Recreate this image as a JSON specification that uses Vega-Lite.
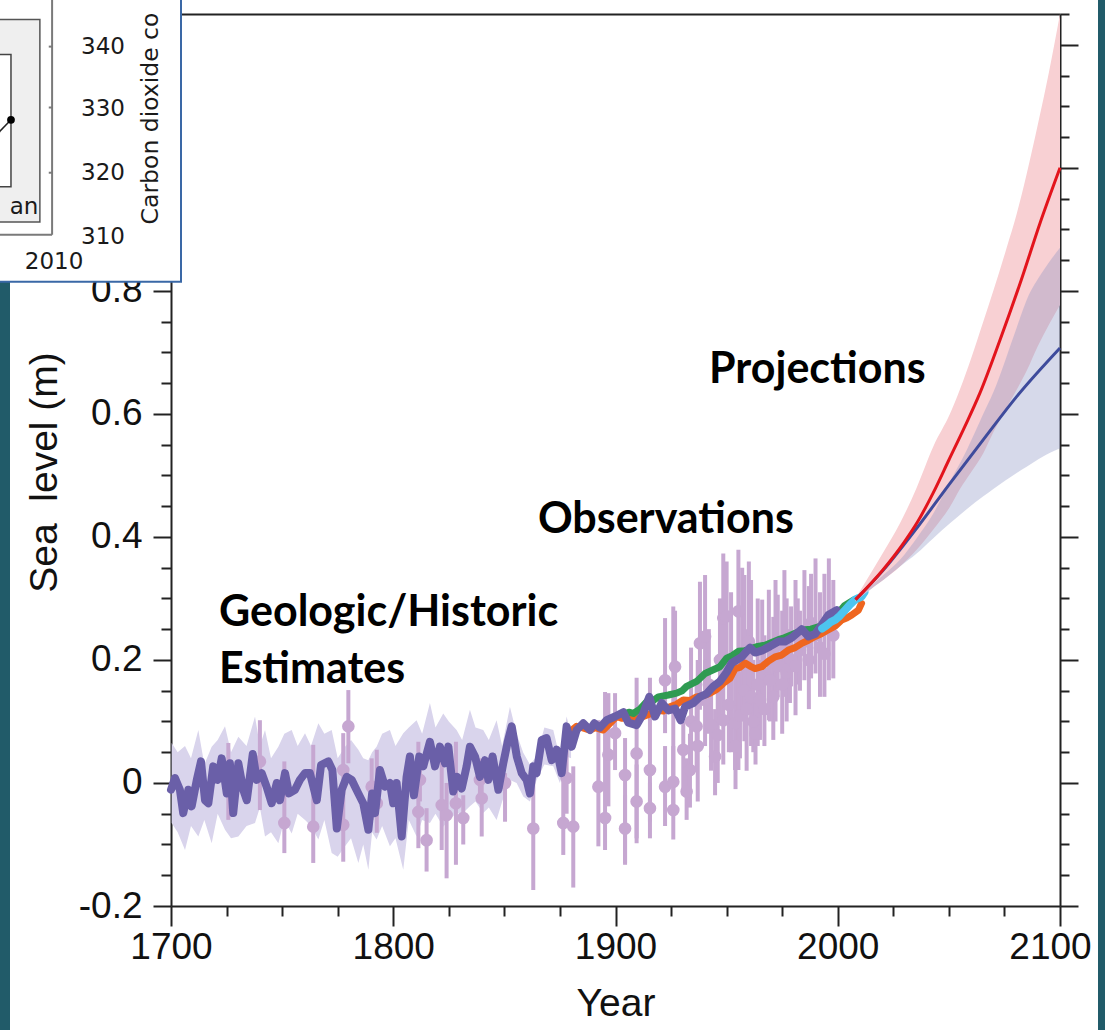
{
  "$schema": "https://vega.github.io/schema/vega-lite/v6.json",
  "width": 889,
  "height": 892,
  "autosize": {"type": "none"},
  "padding": {"left": 171, "top": 14, "right": 45, "bottom": 124},
  "background": "white",
  "config": {
    "view": {"stroke": null},
    "axis": {"grid": false, "domainColor": "#222", "domainWidth": 2, "tickColor": "#222", "tickWidth": 2,
      "labelFont": "Liberation Sans, Arial, sans-serif", "labelFontSize": 37, "labelColor": "#111",
      "titleFont": "Liberation Sans, Arial, sans-serif", "titleFontSize": 39, "titleFontWeight": "normal", "titleColor": "#111"}
  },
  "datasets": {
    "strips": [
      {"x1": 1580, "x2": 1627.56, "y1": -0.5, "y2": 1.4},
      {"x1": 2117.1, "x2": 2160, "y1": -0.5, "y2": 1.4}
    ],
    "band": [
      {"year": 1700.3, "lo": -0.065, "hi": 0.065}, {"year": 1703, "lo": -0.08, "hi": 0.05},
      {"year": 1706.3, "lo": -0.109, "hi": 0.06}, {"year": 1709, "lo": -0.07, "hi": 0.04},
      {"year": 1712.3, "lo": -0.087, "hi": 0.086}, {"year": 1715, "lo": -0.06, "hi": 0.03},
      {"year": 1718.3, "lo": -0.098, "hi": 0.059}, {"year": 1721, "lo": -0.05, "hi": 0.07},
      {"year": 1724.3, "lo": -0.076, "hi": 0.092}, {"year": 1727, "lo": -0.09, "hi": 0.05},
      {"year": 1730.3, "lo": -0.087, "hi": 0.075}, {"year": 1734, "lo": -0.07, "hi": 0.06},
      {"year": 1737.8, "lo": -0.065, "hi": 0.108}, {"year": 1740, "lo": -0.04, "hi": 0.06},
      {"year": 1742.3, "lo": -0.087, "hi": 0.086}, {"year": 1745, "lo": -0.08, "hi": 0.04},
      {"year": 1748.3, "lo": -0.098, "hi": 0.059}, {"year": 1751, "lo": -0.06, "hi": 0.08},
      {"year": 1754.3, "lo": -0.082, "hi": 0.086}, {"year": 1757, "lo": -0.05, "hi": 0.06},
      {"year": 1760.3, "lo": -0.06, "hi": 0.081}, {"year": 1763, "lo": -0.07, "hi": 0.06},
      {"year": 1766.3, "lo": -0.092, "hi": 0.097}, {"year": 1769, "lo": -0.06, "hi": 0.08},
      {"year": 1772.3, "lo": -0.114, "hi": 0.086}, {"year": 1775, "lo": -0.12, "hi": 0.04},
      {"year": 1778.3, "lo": -0.103, "hi": 0.059}, {"year": 1781, "lo": -0.09, "hi": 0.07},
      {"year": 1784.3, "lo": -0.13, "hi": 0.054}, {"year": 1786.5, "lo": -0.1, "hi": 0.04},
      {"year": 1788.8, "lo": -0.141, "hi": 0.037}, {"year": 1790.5, "lo": -0.08, "hi": 0.05},
      {"year": 1792.5, "lo": -0.092, "hi": 0.059}, {"year": 1795, "lo": -0.07, "hi": 0.08},
      {"year": 1798.5, "lo": -0.103, "hi": 0.086}, {"year": 1801, "lo": -0.09, "hi": 0.06},
      {"year": 1804.5, "lo": -0.141, "hi": 0.081}, {"year": 1807, "lo": -0.06, "hi": 0.09},
      {"year": 1810.5, "lo": -0.087, "hi": 0.102}, {"year": 1813, "lo": -0.06, "hi": 0.08},
      {"year": 1816.5, "lo": -0.065, "hi": 0.13}, {"year": 1819, "lo": -0.05, "hi": 0.09},
      {"year": 1822.5, "lo": -0.071, "hi": 0.113}, {"year": 1825, "lo": -0.06, "hi": 0.1},
      {"year": 1828.5, "lo": -0.049, "hi": 0.086}, {"year": 1831, "lo": -0.05, "hi": 0.07},
      {"year": 1834.5, "lo": -0.038, "hi": 0.119}, {"year": 1837, "lo": -0.03, "hi": 0.09},
      {"year": 1840.5, "lo": -0.049, "hi": 0.086}, {"year": 1843, "lo": -0.04, "hi": 0.07},
      {"year": 1846.5, "lo": -0.06, "hi": 0.102}, {"year": 1849, "lo": -0.03, "hi": 0.06},
      {"year": 1852.5, "lo": 0.005, "hi": 0.124}, {"year": 1855.5, "lo": 0.0, "hi": 0.08},
      {"year": 1858.5, "lo": -0.022, "hi": 0.049}, {"year": 1861.5, "lo": -0.03, "hi": 0.03},
      {"year": 1864.5, "lo": 0.005, "hi": 0.043}, {"year": 1868, "lo": 0.03, "hi": 0.09},
      {"year": 1872, "lo": 0.027, "hi": 0.086}, {"year": 1875, "lo": 0.0, "hi": 0.04},
      {"year": 1878, "lo": 0.043, "hi": 0.108}, {"year": 1880, "lo": 0.04, "hi": 0.08}
    ],
    "points": [
      {"year": 1725.8, "v": 0.0, "lo": -0.06, "hi": 0.065},
      {"year": 1740, "v": 0.035, "lo": -0.044, "hi": 0.102},
      {"year": 1751, "v": -0.065, "lo": -0.114, "hi": 0.035},
      {"year": 1764, "v": -0.071, "lo": -0.13, "hi": 0.062},
      {"year": 1777.5, "v": 0.021, "lo": -0.02, "hi": 0.081},
      {"year": 1777.5, "v": -0.068, "lo": -0.128, "hi": 0.005},
      {"year": 1779.8, "v": 0.092, "lo": 0.032, "hi": 0.151},
      {"year": 1790.3, "v": -0.006, "lo": -0.06, "hi": 0.04},
      {"year": 1792.6, "v": -0.033, "lo": -0.081, "hi": 0.054},
      {"year": 1811.3, "v": -0.047, "lo": -0.106, "hi": 0.067},
      {"year": 1812, "v": 0.005, "lo": -0.03, "hi": 0.04},
      {"year": 1815, "v": -0.093, "lo": -0.144, "hi": -0.041},
      {"year": 1821.8, "v": -0.036, "lo": -0.109, "hi": 0.037},
      {"year": 1824, "v": -0.052, "lo": -0.155, "hi": 0.0},
      {"year": 1828.2, "v": -0.033, "lo": -0.133, "hi": 0.067},
      {"year": 1831.5, "v": -0.057, "lo": -0.1, "hi": -0.02},
      {"year": 1839, "v": 0.005, "lo": -0.03, "hi": 0.04},
      {"year": 1839.8, "v": -0.025, "lo": -0.087, "hi": 0.027},
      {"year": 1850.3, "v": 0.0, "lo": -0.063, "hi": 0.016},
      {"year": 1863, "v": -0.074, "lo": -0.174, "hi": 0.016},
      {"year": 1876.5, "v": -0.065, "lo": -0.117, "hi": 0.027},
      {"year": 1878, "v": 0.008, "lo": -0.05, "hi": 0.06},
      {"year": 1881, "v": -0.071, "lo": -0.17, "hi": 0.027},
      {"year": 1892.3, "v": -0.006, "lo": -0.103, "hi": 0.102},
      {"year": 1895.3, "v": -0.057, "lo": -0.109, "hi": 0.148},
      {"year": 1896.8, "v": 0.046, "lo": -0.038, "hi": 0.146},
      {"year": 1899.8, "v": 0.081, "lo": 0.021, "hi": 0.146},
      {"year": 1904.3, "v": 0.013, "lo": -0.133, "hi": 0.073},
      {"year": 1904.3, "v": -0.074, "lo": -0.13, "hi": -0.02},
      {"year": 1909.5, "v": 0.048, "lo": -0.098, "hi": 0.171},
      {"year": 1909.5, "v": -0.03, "lo": -0.09, "hi": 0.03},
      {"year": 1915.5, "v": 0.021, "lo": -0.063, "hi": 0.171},
      {"year": 1915.5, "v": -0.041, "lo": -0.09, "hi": 0.0},
      {"year": 1922.3, "v": 0.167, "lo": 0.081, "hi": 0.268},
      {"year": 1922.3, "v": -0.006, "lo": -0.07, "hi": 0.06},
      {"year": 1926, "v": -0.044, "lo": -0.092, "hi": 0.287},
      {"year": 1926.8, "v": 0.189, "lo": 0.12, "hi": 0.28},
      {"year": 1926, "v": 0.002, "lo": -0.05, "hi": 0.06},
      {"year": 1930.5, "v": 0.054, "lo": -0.02, "hi": 0.1},
      {"year": 1932, "v": -0.014, "lo": -0.06, "hi": 0.04},
      {"year": 1933.5, "v": 0.021, "lo": -0.04, "hi": 0.08},
      {"year": 1934, "v": 0.1, "lo": 0.02, "hi": 0.22},
      {"year": 1936.5, "v": 0.092, "lo": 0.02, "hi": 0.16},
      {"year": 1937, "v": 0.06, "lo": -0.03, "hi": 0.2},
      {"year": 1938, "v": 0.227, "lo": 0.119, "hi": 0.327},
      {"year": 1940.3, "v": 0.238, "lo": 0.151, "hi": 0.338},
      {"year": 1940.3, "v": 0.135, "lo": 0.06, "hi": 0.2},
      {"year": 1942, "v": 0.16, "lo": 0.08, "hi": 0.25},
      {"year": 1943, "v": 0.094, "lo": 0.02, "hi": 0.16},
      {"year": 1944.8, "v": 0.043, "lo": -0.02, "hi": 0.12},
      {"year": 1946, "v": 0.078, "lo": 0.0, "hi": 0.15},
      {"year": 1947, "v": 0.2, "lo": 0.1, "hi": 0.3},
      {"year": 1948.5, "v": 0.268, "lo": 0.16, "hi": 0.373},
      {"year": 1948.5, "v": 0.102, "lo": 0.03, "hi": 0.17},
      {"year": 1950, "v": 0.271, "lo": 0.16, "hi": 0.36},
      {"year": 1951, "v": 0.127, "lo": 0.05, "hi": 0.2},
      {"year": 1952, "v": 0.18, "lo": 0.05, "hi": 0.31},
      {"year": 1953.8, "v": 0.097, "lo": 0.021, "hi": 0.2},
      {"year": 1954, "v": 0.06, "lo": -0.01, "hi": 0.13},
      {"year": 1955.3, "v": 0.279, "lo": 0.021, "hi": 0.379},
      {"year": 1956, "v": 0.11, "lo": 0.04, "hi": 0.18},
      {"year": 1957, "v": 0.21, "lo": 0.1, "hi": 0.35},
      {"year": 1958, "v": 0.15, "lo": 0.068, "hi": 0.338},
      {"year": 1959, "v": 0.12, "lo": 0.02, "hi": 0.25},
      {"year": 1960, "v": 0.23, "lo": 0.12, "hi": 0.36},
      {"year": 1961, "v": 0.14, "lo": 0.06, "hi": 0.33},
      {"year": 1962, "v": 0.1, "lo": 0.05, "hi": 0.2},
      {"year": 1963, "v": 0.08, "lo": 0.03, "hi": 0.14},
      {"year": 1964, "v": 0.16, "lo": 0.06, "hi": 0.3},
      {"year": 1965, "v": 0.135, "lo": 0.07, "hi": 0.2},
      {"year": 1966, "v": 0.18, "lo": 0.135, "hi": 0.298},
      {"year": 1967, "v": 0.12, "lo": 0.06, "hi": 0.24},
      {"year": 1969, "v": 0.17, "lo": 0.102, "hi": 0.314},
      {"year": 1969.5, "v": 0.167, "lo": 0.1, "hi": 0.23},
      {"year": 1971, "v": 0.14, "lo": 0.07, "hi": 0.27},
      {"year": 1972, "v": 0.2, "lo": 0.1, "hi": 0.33},
      {"year": 1973, "v": 0.19, "lo": 0.14, "hi": 0.306},
      {"year": 1975, "v": 0.16, "lo": 0.08, "hi": 0.28},
      {"year": 1976, "v": 0.22, "lo": 0.14, "hi": 0.346},
      {"year": 1977, "v": 0.18, "lo": 0.1, "hi": 0.3},
      {"year": 1978.5, "v": 0.19, "lo": 0.13, "hi": 0.25},
      {"year": 1979, "v": 0.2, "lo": 0.157, "hi": 0.287},
      {"year": 1981, "v": 0.19, "lo": 0.11, "hi": 0.33},
      {"year": 1982, "v": 0.24, "lo": 0.16, "hi": 0.3},
      {"year": 1983, "v": 0.216, "lo": 0.15, "hi": 0.28},
      {"year": 1985, "v": 0.23, "lo": 0.167, "hi": 0.346},
      {"year": 1987, "v": 0.2, "lo": 0.12, "hi": 0.32},
      {"year": 1988, "v": 0.26, "lo": 0.17, "hi": 0.34},
      {"year": 1990, "v": 0.24, "lo": 0.178, "hi": 0.365},
      {"year": 1992, "v": 0.22, "lo": 0.14, "hi": 0.31},
      {"year": 1994, "v": 0.21, "lo": 0.14, "hi": 0.34},
      {"year": 1996, "v": 0.25, "lo": 0.167, "hi": 0.365},
      {"year": 1998, "v": 0.24, "lo": 0.17, "hi": 0.33}
    ],
    "recon": [
      {"year": 1700.0, "v": -0.011}, {"year": 1701.8, "v": 0.008}, {"year": 1704.0, "v": -0.011},
      {"year": 1705.5, "v": -0.049}, {"year": 1707.8, "v": -0.011}, {"year": 1709.3, "v": -0.038},
      {"year": 1711.6, "v": 0.005}, {"year": 1713.5, "v": 0.035}, {"year": 1715.3, "v": -0.028},
      {"year": 1716.8, "v": -0.033}, {"year": 1719.0, "v": 0.027}, {"year": 1721.0, "v": 0.005},
      {"year": 1722.8, "v": 0.04}, {"year": 1725.1, "v": -0.017}, {"year": 1726.5, "v": 0.032},
      {"year": 1728.0, "v": -0.049}, {"year": 1730.3, "v": 0.032}, {"year": 1732.5, "v": -0.011},
      {"year": 1734.1, "v": -0.028}, {"year": 1736.8, "v": 0.047}, {"year": 1738.6, "v": 0.005},
      {"year": 1740.8, "v": 0.016}, {"year": 1743.0, "v": -0.006}, {"year": 1745.3, "v": -0.033},
      {"year": 1747.6, "v": 0.0}, {"year": 1749.0, "v": -0.028}, {"year": 1751.3, "v": 0.016},
      {"year": 1753.1, "v": -0.017}, {"year": 1755.8, "v": -0.011}, {"year": 1758.0, "v": 0.005},
      {"year": 1760.3, "v": 0.016}, {"year": 1762.5, "v": 0.016}, {"year": 1765.6, "v": -0.028},
      {"year": 1767.5, "v": 0.029}, {"year": 1770.8, "v": 0.035}, {"year": 1772.6, "v": 0.021},
      {"year": 1774.6, "v": -0.074}, {"year": 1776.8, "v": -0.011}, {"year": 1779.1, "v": 0.01},
      {"year": 1781.3, "v": 0.005}, {"year": 1784.3, "v": -0.017}, {"year": 1786.5, "v": -0.033},
      {"year": 1788.8, "v": -0.076}, {"year": 1790.5, "v": -0.017}, {"year": 1791.8, "v": -0.049},
      {"year": 1794.0, "v": 0.021}, {"year": 1796.3, "v": -0.006}, {"year": 1798.5, "v": 0.0},
      {"year": 1800.0, "v": -0.033}, {"year": 1801.5, "v": 0.0}, {"year": 1803.8, "v": -0.087},
      {"year": 1806.0, "v": 0.01}, {"year": 1807.5, "v": 0.043}, {"year": 1809.3, "v": -0.02},
      {"year": 1811.7, "v": 0.043}, {"year": 1813.5, "v": 0.027}, {"year": 1816.5, "v": 0.067},
      {"year": 1818.8, "v": 0.027}, {"year": 1821.0, "v": 0.059}, {"year": 1823.3, "v": 0.032},
      {"year": 1824.8, "v": 0.059}, {"year": 1827.0, "v": -0.014}, {"year": 1828.8, "v": 0.01},
      {"year": 1830.8, "v": -0.009}, {"year": 1833.0, "v": 0.027}, {"year": 1834.5, "v": 0.059},
      {"year": 1836.8, "v": 0.043}, {"year": 1839.0, "v": 0.01}, {"year": 1841.3, "v": 0.037},
      {"year": 1842.8, "v": 0.005}, {"year": 1844.7, "v": 0.043}, {"year": 1847.3, "v": -0.011},
      {"year": 1849.5, "v": 0.032}, {"year": 1851.5, "v": 0.067}, {"year": 1853.3, "v": 0.092},
      {"year": 1855.6, "v": 0.043}, {"year": 1857.8, "v": 0.016}, {"year": 1860.0, "v": 0.005},
      {"year": 1861.5, "v": -0.017}, {"year": 1863.0, "v": 0.027}, {"year": 1864.5, "v": 0.016},
      {"year": 1866.8, "v": 0.07}, {"year": 1869.0, "v": 0.073}, {"year": 1871.3, "v": 0.037},
      {"year": 1873.5, "v": 0.054}, {"year": 1875.8, "v": 0.016}, {"year": 1878.0, "v": 0.092},
      {"year": 1880.3, "v": 0.059}, {"year": 1882.5, "v": 0.086}, {"year": 1885.5, "v": 0.097},
      {"year": 1888.5, "v": 0.086}, {"year": 1890.5, "v": 0.097}, {"year": 1893.0, "v": 0.09},
      {"year": 1896.0, "v": 0.102}, {"year": 1899.8, "v": 0.108}, {"year": 1903.5, "v": 0.115},
      {"year": 1905.8, "v": 0.098}, {"year": 1909.5, "v": 0.094}, {"year": 1912.5, "v": 0.113},
      {"year": 1915.2, "v": 0.14}, {"year": 1917.8, "v": 0.108}, {"year": 1920.8, "v": 0.13},
      {"year": 1923.8, "v": 0.118}, {"year": 1926.8, "v": 0.121}, {"year": 1929.3, "v": 0.102},
      {"year": 1931.3, "v": 0.124}, {"year": 1935.0, "v": 0.13}, {"year": 1938.0, "v": 0.14},
      {"year": 1941.0, "v": 0.145}, {"year": 1944.0, "v": 0.157}, {"year": 1947.0, "v": 0.165},
      {"year": 1950.0, "v": 0.18}, {"year": 1952.3, "v": 0.195}, {"year": 1956.8, "v": 0.205},
      {"year": 1960.5, "v": 0.22}, {"year": 1962.8, "v": 0.212}, {"year": 1965.8, "v": 0.215},
      {"year": 1969.5, "v": 0.222}, {"year": 1973.3, "v": 0.23}, {"year": 1976.3, "v": 0.23},
      {"year": 1979.3, "v": 0.236}, {"year": 1983.8, "v": 0.25}, {"year": 1986.8, "v": 0.238},
      {"year": 1989.8, "v": 0.242}, {"year": 1992.8, "v": 0.257}, {"year": 1995.8, "v": 0.273},
      {"year": 1999.5, "v": 0.281}
    ],
    "orange": [
      {"year": 1880, "v": 0.085}, {"year": 1882.5, "v": 0.092}, {"year": 1885, "v": 0.09},
      {"year": 1888.5, "v": 0.086}, {"year": 1891, "v": 0.09}, {"year": 1894.5, "v": 0.086},
      {"year": 1897, "v": 0.095}, {"year": 1900.5, "v": 0.108}, {"year": 1903, "v": 0.105},
      {"year": 1906.5, "v": 0.108}, {"year": 1909.5, "v": 0.104}, {"year": 1912.5, "v": 0.108},
      {"year": 1915.5, "v": 0.112}, {"year": 1918.5, "v": 0.119}, {"year": 1921.5, "v": 0.117},
      {"year": 1924.5, "v": 0.124}, {"year": 1927.5, "v": 0.128}, {"year": 1930.5, "v": 0.135},
      {"year": 1933.5, "v": 0.134}, {"year": 1936.5, "v": 0.14}, {"year": 1939.5, "v": 0.142},
      {"year": 1942.5, "v": 0.146}, {"year": 1945.5, "v": 0.152}, {"year": 1948.5, "v": 0.162},
      {"year": 1951.5, "v": 0.17}, {"year": 1953.8, "v": 0.186}, {"year": 1956, "v": 0.188},
      {"year": 1958.3, "v": 0.195}, {"year": 1960.5, "v": 0.19}, {"year": 1962.8, "v": 0.186},
      {"year": 1965.8, "v": 0.189}, {"year": 1968.8, "v": 0.198}, {"year": 1971.8, "v": 0.205},
      {"year": 1974.8, "v": 0.208}, {"year": 1977.8, "v": 0.216}, {"year": 1980.8, "v": 0.22},
      {"year": 1983.8, "v": 0.227}, {"year": 1986.8, "v": 0.232}, {"year": 1989.8, "v": 0.238},
      {"year": 1992.8, "v": 0.243}, {"year": 1995.8, "v": 0.249}, {"year": 1998.8, "v": 0.255},
      {"year": 2001.8, "v": 0.265}, {"year": 2004, "v": 0.268}, {"year": 2006.3, "v": 0.273},
      {"year": 2009.3, "v": 0.281}, {"year": 2010.7, "v": 0.292}
    ],
    "green": [
      {"year": 1903.5, "v": 0.112}, {"year": 1906, "v": 0.115}, {"year": 1908, "v": 0.113},
      {"year": 1911, "v": 0.12}, {"year": 1914.8, "v": 0.135}, {"year": 1917, "v": 0.134},
      {"year": 1919.3, "v": 0.14}, {"year": 1923.8, "v": 0.143}, {"year": 1927.5, "v": 0.146},
      {"year": 1930, "v": 0.15}, {"year": 1932, "v": 0.157}, {"year": 1936.5, "v": 0.165},
      {"year": 1940.3, "v": 0.178}, {"year": 1944, "v": 0.184}, {"year": 1947, "v": 0.189},
      {"year": 1950, "v": 0.203}, {"year": 1952.5, "v": 0.207}, {"year": 1955.3, "v": 0.214},
      {"year": 1958, "v": 0.215}, {"year": 1961.3, "v": 0.219}, {"year": 1964, "v": 0.222},
      {"year": 1967.3, "v": 0.224}, {"year": 1970, "v": 0.228}, {"year": 1973.3, "v": 0.233},
      {"year": 1976, "v": 0.236}, {"year": 1979.3, "v": 0.241}, {"year": 1982, "v": 0.245},
      {"year": 1985.3, "v": 0.249}, {"year": 1988, "v": 0.25}, {"year": 1991.3, "v": 0.254},
      {"year": 1994, "v": 0.258}, {"year": 1997.3, "v": 0.265}, {"year": 2000, "v": 0.275},
      {"year": 2003, "v": 0.288}, {"year": 2007, "v": 0.297}
    ],
    "cyan": [
      {"year": 1993, "v": 0.251}, {"year": 1995, "v": 0.256}, {"year": 1997, "v": 0.262},
      {"year": 1998.8, "v": 0.265}, {"year": 2001, "v": 0.272}, {"year": 2003.3, "v": 0.281},
      {"year": 2005.5, "v": 0.29}, {"year": 2007.8, "v": 0.298}, {"year": 2010.7, "v": 0.303},
      {"year": 2012, "v": 0.31}
    ],
    "redband": [
      {"year": 2008, "lo": 0.295, "hi": 0.3}, {"year": 2013, "lo": 0.31, "hi": 0.33},
      {"year": 2020.5, "lo": 0.33, "hi": 0.375}, {"year": 2028, "lo": 0.352, "hi": 0.422},
      {"year": 2035.5, "lo": 0.379, "hi": 0.48}, {"year": 2043, "lo": 0.412, "hi": 0.547},
      {"year": 2050.5, "lo": 0.449, "hi": 0.6}, {"year": 2055, "lo": 0.478, "hi": 0.64},
      {"year": 2060, "lo": 0.505, "hi": 0.69}, {"year": 2065.5, "lo": 0.536, "hi": 0.75},
      {"year": 2070, "lo": 0.57, "hi": 0.8}, {"year": 2076, "lo": 0.61, "hi": 0.87},
      {"year": 2080.5, "lo": 0.639, "hi": 0.925}, {"year": 2085, "lo": 0.67, "hi": 0.99},
      {"year": 2090, "lo": 0.71, "hi": 1.07}, {"year": 2095, "lo": 0.745, "hi": 1.155},
      {"year": 2100, "lo": 0.777, "hi": 1.25}
    ],
    "blueband": [
      {"year": 2008, "lo": 0.295, "hi": 0.3}, {"year": 2013, "lo": 0.31, "hi": 0.314},
      {"year": 2020.5, "lo": 0.33, "hi": 0.338}, {"year": 2028, "lo": 0.352, "hi": 0.363},
      {"year": 2035.5, "lo": 0.373, "hi": 0.398}, {"year": 2043, "lo": 0.398, "hi": 0.438},
      {"year": 2050.5, "lo": 0.422, "hi": 0.49}, {"year": 2058, "lo": 0.445, "hi": 0.541},
      {"year": 2065.5, "lo": 0.466, "hi": 0.6}, {"year": 2070, "lo": 0.478, "hi": 0.635},
      {"year": 2080.5, "lo": 0.504, "hi": 0.74}, {"year": 2085, "lo": 0.514, "hi": 0.785},
      {"year": 2092, "lo": 0.53, "hi": 0.83}, {"year": 2100, "lo": 0.544, "hi": 0.87}
    ],
    "redline": [
      {"year": 2008, "v": 0.298}, {"year": 2020, "v": 0.345}, {"year": 2030, "v": 0.392},
      {"year": 2036, "v": 0.425}, {"year": 2043, "v": 0.472}, {"year": 2050, "v": 0.525},
      {"year": 2057, "v": 0.578}, {"year": 2064, "v": 0.634}, {"year": 2073, "v": 0.72},
      {"year": 2082.6, "v": 0.818}, {"year": 2091, "v": 0.91}, {"year": 2100, "v": 1.0}
    ],
    "blueline": [
      {"year": 2008, "v": 0.298}, {"year": 2020.5, "v": 0.346}, {"year": 2035.5, "v": 0.414},
      {"year": 2050.5, "v": 0.487}, {"year": 2065.5, "v": 0.558}, {"year": 2080.5, "v": 0.628},
      {"year": 2100, "v": 0.707}
    ],
    "labels": [
      {"x": 1942.1, "y": 0.65, "t": "Projections"},
      {"x": 1865.1, "y": 0.4065, "t": "Observations"},
      {"x": 1721.6, "y": 0.255, "t": "Geologic/Historic"},
      {"x": 1721.6, "y": 0.1626, "t": "Estimates"}
    ],
    "insetBox": [{"x1": 1610, "x2": 1704.5, "y1": 0.8146, "y2": 1.33}],
    "insetPanel": [{"x1": 1610, "x2": 1641.0, "y1": 0.912, "y2": 1.241}],
    "insetInner": [{"x1": 1610, "x2": 1628.0, "y1": 0.969, "y2": 1.184}],
    "insetFrame": [
      {"x1": 1646.5, "x2": 1646.5, "y1": 0.891, "y2": 1.33},
      {"x1": 1610, "x2": 1646.5, "y1": 0.891, "y2": 0.891},
      {"x1": 1645.0, "x2": 1646.5, "y1": 1.197, "y2": 1.197},
      {"x1": 1645.0, "x2": 1646.5, "y1": 1.098, "y2": 1.098},
      {"x1": 1645.0, "x2": 1646.5, "y1": 0.992, "y2": 0.992}
    ],
    "insetLine": [{"year": 1621.0, "v": 1.052}, {"year": 1628.0, "v": 1.078}],
    "insetText": [
      {"x": 1669.4, "y": 1.1968, "t": "340", "a": "center"},
      {"x": 1669.4, "y": 1.0959, "t": "330", "a": "center"},
      {"x": 1669.4, "y": 0.9919, "t": "320", "a": "center"},
      {"x": 1669.4, "y": 0.8878, "t": "310", "a": "center"},
      {"x": 1647.4, "y": 0.8472, "t": "2010", "a": "center"},
      {"x": 1633.9, "y": 0.9366, "t": "an", "a": "right"}
    ],
    "insetTitle": [{"x": 1691.2, "y": 0.908, "t": "Carbon dioxide co"}]
  },
  "layer": [
    {
      "data": {"name": "strips"},
      "mark": {"type": "rect", "color": "#215b69"},
      "encoding": {
        "x": {"field": "x1", "type": "quantitative", "scale": {"domain": [1700, 2100], "nice": false, "zero": false},
          "axis": {"orient": "bottom", "zindex": 0, "title": "Year", "grid": false,
            "values": [1700, 1725, 1750, 1775, 1800, 1825, 1850, 1875, 1900, 1925, 1950, 1975, 2000, 2025, 2050, 2075, 2100],
            "labelExpr": "datum.value % 100 === 0 ? format(datum.value, 'd') : ''",
            "tickSize": {"condition": {"test": "datum.value % 100 === 0", "value": 20}, "value": 10},
            "labelOffset": {"condition": {"test": "datum.value === 2100", "value": -10}, "value": 0},
            "labelPadding": 3, "labelFlush": false, "labelOverlap": false, "titlePadding": 19}},
        "x2": {"field": "x2"},
        "y": {"field": "y1", "type": "quantitative", "scale": {"domain": [-0.2, 1.25], "nice": false, "zero": false},
          "axis": {"orient": "left", "zindex": 0, "title": "Sea\u00a0 level (m)", "grid": false, "titleY": 458,
            "values": [-0.2, -0.15, -0.1, -0.05, 0, 0.05, 0.1, 0.15, 0.2, 0.25, 0.3, 0.35, 0.4, 0.45, 0.5, 0.55, 0.6, 0.65, 0.7, 0.75, 0.8, 0.85, 0.9, 0.95, 1, 1.05, 1.1, 1.15, 1.2, 1.25],
            "labelExpr": "(datum.value < 0.81 && abs(datum.value*5 - round(datum.value*5)) < 0.001) ? replace(format(datum.value, '.1~f'), '\u2212', '-') : ''",
            "tickSize": {"condition": {"test": "abs(datum.value*5 - round(datum.value*5)) < 0.001", "value": 18}, "value": 10},
            "labelPadding": 11, "labelFlush": false, "labelOverlap": false, "titlePadding": 14}},
        "y2": {"field": "y2"}
      }
    },
    {
      "data": {"name": "band"},
      "mark": {"type": "area", "color": "#d9d4ec", "opacity": 1},
      "encoding": {
        "x": {"field": "year", "type": "quantitative", "scale": {"domain": [1700, 2100], "nice": false, "zero": false},
          "axis": {"orient": "top", "zindex": 0, "title": null, "labels": false, "ticks": false, "grid": false}},
        "y": {"field": "lo", "type": "quantitative", "scale": {"domain": [-0.2, 1.25], "nice": false, "zero": false},
          "axis": {"orient": "right", "zindex": 0, "title": null, "labels": false, "grid": false,
            "values": [-0.2, -0.15, -0.1, -0.05, 0, 0.05, 0.1, 0.15, 0.2, 0.25, 0.3, 0.35, 0.4, 0.45, 0.5, 0.55, 0.6, 0.65, 0.7, 0.75, 0.8, 0.85, 0.9, 0.95, 1, 1.05, 1.1, 1.15, 1.2, 1.25],
            "tickSize": {"condition": {"test": "abs(datum.value*5 - round(datum.value*5)) < 0.001", "value": 18}, "value": 9}}},
        "y2": {"field": "hi"}
      }
    },
    {
      "data": {"name": "points"},
      "mark": {"type": "rule", "color": "#c6a7d1", "strokeWidth": 4},
      "encoding": {
        "x": {"field": "year", "type": "quantitative", "axis": null},
        "y": {"field": "lo", "type": "quantitative", "axis": null},
        "y2": {"field": "hi"}
      }
    },
    {
      "data": {"name": "points"},
      "mark": {"type": "point", "filled": true, "color": "#c6a7d1", "opacity": 1, "size": 160},
      "encoding": {
        "x": {"field": "year", "type": "quantitative", "axis": null},
        "y": {"field": "v", "type": "quantitative", "axis": null}
      }
    },
    {
      "data": {"name": "orange"},
      "mark": {"type": "line", "color": "#ef661f", "strokeWidth": 7, "strokeJoin": "round", "strokeCap": "round"},
      "encoding": {
        "x": {"field": "year", "type": "quantitative", "axis": null},
        "y": {"field": "v", "type": "quantitative", "axis": null}
      }
    },
    {
      "data": {"name": "green"},
      "mark": {"type": "line", "color": "#2f9b52", "strokeWidth": 7, "strokeJoin": "round", "strokeCap": "round"},
      "encoding": {
        "x": {"field": "year", "type": "quantitative", "axis": null},
        "y": {"field": "v", "type": "quantitative", "axis": null}
      }
    },
    {
      "data": {"name": "recon"},
      "mark": {"type": "line", "color": "#6a5fa8", "strokeWidth": 8, "strokeJoin": "round", "strokeCap": "round"},
      "encoding": {
        "x": {"field": "year", "type": "quantitative", "axis": null},
        "y": {"field": "v", "type": "quantitative", "axis": null}
      }
    },
    {
      "data": {"name": "cyan"},
      "mark": {"type": "line", "color": "#4dc5ef", "strokeWidth": 8, "strokeJoin": "round", "strokeCap": "round"},
      "encoding": {
        "x": {"field": "year", "type": "quantitative", "axis": null},
        "y": {"field": "v", "type": "quantitative", "axis": null}
      }
    },
    {
      "data": {"name": "redband"},
      "mark": {"type": "area", "color": "#f8d0d3", "opacity": 1, "interpolate": "monotone"},
      "encoding": {
        "x": {"field": "year", "type": "quantitative", "axis": null},
        "y": {"field": "lo", "type": "quantitative", "axis": null},
        "y2": {"field": "hi"}
      }
    },
    {
      "data": {"name": "blueband"},
      "mark": {"type": "area", "color": "#8a92c3", "opacity": 0.35, "interpolate": "monotone"},
      "encoding": {
        "x": {"field": "year", "type": "quantitative", "axis": null},
        "y": {"field": "lo", "type": "quantitative", "axis": null},
        "y2": {"field": "hi"}
      }
    },
    {
      "data": {"name": "blueline"},
      "mark": {"type": "line", "color": "#3e4b9c", "strokeWidth": 3, "interpolate": "monotone"},
      "encoding": {
        "x": {"field": "year", "type": "quantitative", "axis": null},
        "y": {"field": "v", "type": "quantitative", "axis": null}
      }
    },
    {
      "data": {"name": "redline"},
      "mark": {"type": "line", "color": "#e3141c", "strokeWidth": 3, "interpolate": "monotone"},
      "encoding": {
        "x": {"field": "year", "type": "quantitative", "axis": null},
        "y": {"field": "v", "type": "quantitative", "axis": null}
      }
    },
    {
      "data": {"name": "labels"},
      "mark": {"type": "text", "font": "Lato", "fontWeight": "bold", "fontSize": 43, "align": "left", "baseline": "alphabetic", "color": "#000"},
      "encoding": {
        "x": {"field": "x", "type": "quantitative", "axis": null},
        "y": {"field": "y", "type": "quantitative", "axis": null},
        "text": {"field": "t"}
      }
    },
    {
      "data": {"name": "insetBox"},
      "mark": {"type": "rect", "fill": "white", "stroke": "#3a68a6", "strokeWidth": 2},
      "encoding": {
        "x": {"field": "x1", "type": "quantitative", "axis": null},
        "x2": {"field": "x2"},
        "y": {"field": "y1", "type": "quantitative", "axis": null},
        "y2": {"field": "y2"}
      }
    },
    {
      "data": {"name": "insetPanel"},
      "mark": {"type": "rect", "fill": "#efefef", "stroke": "#555", "strokeWidth": 1.5},
      "encoding": {
        "x": {"field": "x1", "type": "quantitative", "axis": null},
        "x2": {"field": "x2"},
        "y": {"field": "y1", "type": "quantitative", "axis": null},
        "y2": {"field": "y2"}
      }
    },
    {
      "data": {"name": "insetInner"},
      "mark": {"type": "rect", "fill": "white", "stroke": "#444", "strokeWidth": 1.5},
      "encoding": {
        "x": {"field": "x1", "type": "quantitative", "axis": null},
        "x2": {"field": "x2"},
        "y": {"field": "y1", "type": "quantitative", "axis": null},
        "y2": {"field": "y2"}
      }
    },
    {
      "data": {"name": "insetFrame"},
      "mark": {"type": "rule", "color": "#7a7a7a", "strokeWidth": 2},
      "encoding": {
        "x": {"field": "x1", "type": "quantitative", "axis": null},
        "x2": {"field": "x2"},
        "y": {"field": "y1", "type": "quantitative", "axis": null},
        "y2": {"field": "y2"}
      }
    },
    {
      "data": {"name": "insetLine"},
      "mark": {"type": "line", "color": "#222", "strokeWidth": 1.5},
      "encoding": {
        "x": {"field": "year", "type": "quantitative", "axis": null},
        "y": {"field": "v", "type": "quantitative", "axis": null}
      }
    },
    {
      "data": {"name": "insetLine"},
      "transform": [{"filter": "datum.year > 1625"}],
      "mark": {"type": "point", "filled": true, "color": "#000", "size": 60, "opacity": 1},
      "encoding": {
        "x": {"field": "year", "type": "quantitative", "axis": null},
        "y": {"field": "v", "type": "quantitative", "axis": null}
      }
    },
    {
      "data": {"name": "insetText"},
      "mark": {"type": "text", "font": "DejaVu Sans", "fontSize": 23, "baseline": "middle", "color": "#1a1a1a"},
      "encoding": {
        "x": {"field": "x", "type": "quantitative", "axis": null},
        "y": {"field": "y", "type": "quantitative", "axis": null},
        "text": {"field": "t"},
        "align": {"field": "a", "type": "nominal", "scale": null}
      }
    },
    {
      "data": {"name": "insetTitle"},
      "mark": {"type": "text", "font": "DejaVu Sans", "fontSize": 23.5, "baseline": "middle", "align": "left", "angle": 270, "color": "#1a1a1a"},
      "encoding": {
        "x": {"field": "x", "type": "quantitative", "axis": null},
        "y": {"field": "y", "type": "quantitative", "axis": null},
        "text": {"field": "t"}
      }
    }
  ],
  "resolve": {"axis": {"x": "independent", "y": "independent"}}
}
